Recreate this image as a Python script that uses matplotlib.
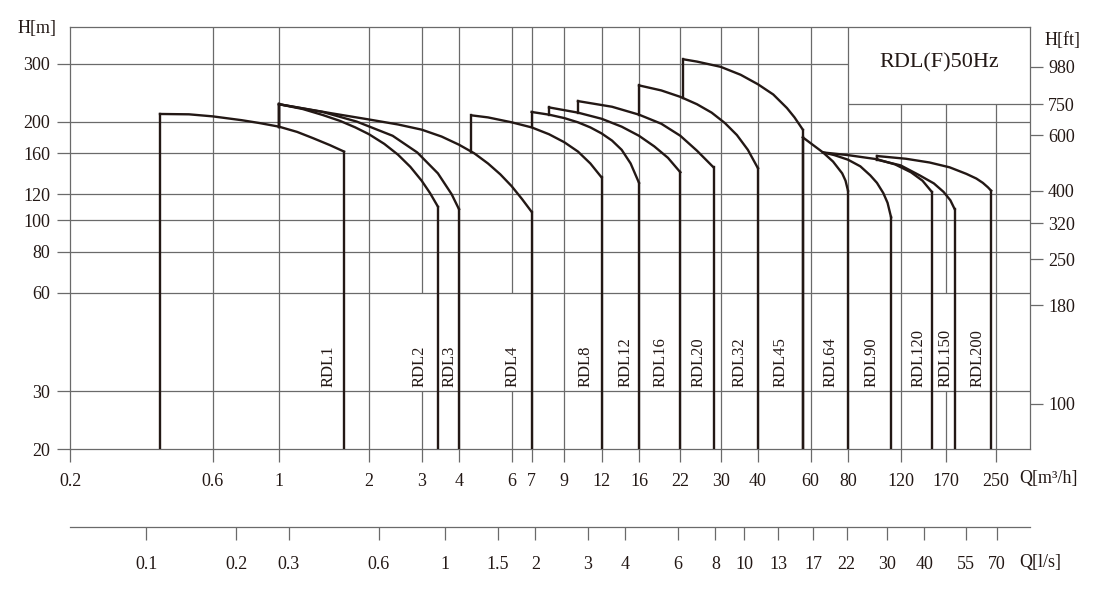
import numpy as np
import matplotlib.pyplot as plt
from matplotlib.ticker import NullLocator

plt.rcParams['font.family'] = ['Liberation Serif', 'DejaVu Serif']

GRID = '#6a6a6a'
INK = '#231815'

# axis ranges (Q in m3/h, H in m)
q_min, q_max = 0.2, 325
h_min, h_max = 20, 389

q_ticks = [0.2, 0.6, 1, 2, 3, 4, 6, 7, 9, 12, 16, 22, 30, 40, 60, 80, 120, 170, 250]
ls_ticks = [0.1, 0.2, 0.3, 0.6, 1, 1.5, 2, 3, 4, 6, 8, 10, 13, 17, 22, 30, 40, 55, 70]
h_ticks = [20, 30, 60, 80, 100, 120, 160, 200, 300]
ft_labels = ['980', '750', '600', '400', '320', '250', '180', '100']
ft_pos_m = [294, 226, 182, 123, 98, 76, 55, 27.5]

# pump curves
rdl1_q = [0.4, 0.5, 0.6, 0.75, 0.86, 1.0, 1.15, 1.3, 1.48, 1.65]
rdl1_h = [211, 210.5, 207.5, 202, 198, 193, 186, 178, 169.5, 162]
rdl2_q = [1, 1.2, 1.4, 1.6, 1.8, 2, 2.25, 2.5, 2.75, 3, 3.2, 3.4]
rdl2_h = [226, 218.5, 209.5, 201, 192, 183, 171, 158.5, 145.5, 132, 121, 110]
rdl3_q = [1, 1.4, 1.82, 2.4, 2.9, 3.4, 3.78, 4.0]
rdl3_h = [226, 214, 200, 181, 161, 139, 120, 108]
rdl4_q = [1, 1.5, 2, 2.5, 3, 3.5, 4, 4.5, 5, 5.5, 6, 6.5, 7]
rdl4_h = [226, 212, 203, 196, 189, 180, 170, 160, 149, 138, 127, 116, 106]
rdl8_q = [4.4, 5, 6, 7, 8, 9, 10, 11, 12]
rdl8_h = [209, 206, 199, 192, 183, 173, 162, 149, 135]
rdl12_q = [7, 8, 9, 10, 11, 12, 13, 14, 15, 16]
rdl12_h = [214, 210, 205, 199, 192, 184, 175, 164, 149, 130]
rdl16_q = [8, 10, 12, 14, 16, 18, 20, 22]
rdl16_h = [221, 213, 204, 193, 181, 168, 155, 140]
rdl20_q = [10, 13, 16, 19, 22, 25, 28.4]
rdl20_h = [231, 222, 210, 197, 181, 163, 145]
rdl32_q = [16, 19, 22, 25, 28, 31, 34, 37, 40]
rdl32_h = [258, 249, 238, 226, 213, 198, 182, 164, 144]
rdl45_q = [22.5, 25, 30, 35, 40, 45, 50, 53, 56.5]
rdl45_h = [310, 305, 294, 278, 260, 242, 220, 206, 189]
rdl64_q = [56.5, 66, 71.3, 76.5, 78.5, 80]
rdl64_h = [179, 161, 151, 139, 132, 123]
rdl90_q = [66, 72, 80, 88, 95, 100, 105, 108.5, 111.5]
rdl90_h = [161, 158, 153, 146, 137, 130, 121, 113, 102]
rdl120_q = [66, 80, 100, 115, 130, 142, 152.6]
rdl120_h = [161, 158, 153.5, 148, 140, 132, 122]
rdl150_q = [100, 120, 139, 155, 167, 176, 182]
rdl150_h = [153, 147, 137, 129.5, 122, 115, 108]
rdl200_q = [100, 125, 150, 175, 199, 215, 226, 235, 241]
rdl200_h = [157, 154, 150, 145, 138.5, 134, 130, 126, 123]

names = ['RDL1', 'RDL2', 'RDL3', 'RDL4', 'RDL8', 'RDL12', 'RDL16', 'RDL20',
         'RDL32', 'RDL45', 'RDL64', 'RDL90', 'RDL120', 'RDL150', 'RDL200']
curves_q = [rdl1_q, rdl2_q, rdl3_q, rdl4_q, rdl8_q, rdl12_q, rdl16_q, rdl20_q,
            rdl32_q, rdl45_q, rdl64_q, rdl90_q, rdl120_q, rdl150_q, rdl200_q]
curves_h = [rdl1_h, rdl2_h, rdl3_h, rdl4_h, rdl8_h, rdl12_h, rdl16_h, rdl20_h,
            rdl32_h, rdl45_h, rdl64_h, rdl90_h, rdl120_h, rdl150_h, rdl200_h]
# curve on which each start line stands (None -> from the bottom)
rests_on = [None, 'RDL1', 'RDL1', 'RDL1', 'RDL4', 'RDL8', 'RDL12', 'RDL16',
            'RDL20', 'RDL32', None, 'RDL64', 'RDL64', 'RDL120', 'RDL120']
label_q = [1.46, 2.96, 3.73, 6.06, 10.6, 14.4, 18.9, 25.4, 34.8, 47.7, 70.2, 96.2, 138, 169, 217]


def head_at(name, q):
    i = names.index(name)
    return np.exp(np.interp(np.log(q), np.log(curves_q[i]), np.log(curves_h[i])))


fig = plt.figure(figsize=(11, 5.9), dpi=100)
ax = fig.add_axes([70 / 1100, 141 / 590, 960 / 1100, 422 / 590])
ax.set_xscale('log')
ax.set_yscale('log')
ax.set_xlim(q_min, q_max)
ax.set_ylim(h_min, h_max)

# grid
gkw = dict(color=GRID, lw=0.9, zorder=1)
for h in h_ticks[1:]:
    ax.hlines(h, q_min, 80 if h == 300 else q_max, **gkw)
ax.hlines(ft_pos_m[1], 80, q_max, **gkw)
for q in q_ticks[1:]:
    top = ft_pos_m[1] if q > 80 else h_max
    if q in (3, 6, 170):
        ax.vlines(q, h_min, 30, **gkw)
        ax.vlines(q, 60, top, **gkw)
    else:
        ax.vlines(q, h_min, top, **gkw)

# pump curves
ckw = dict(color=INK, lw=1.7, zorder=3, solid_joinstyle='round')
for name, qs, hs, base, lq in zip(names, curves_q, curves_h, rests_on, label_q):
    h0 = h_min if base is None else head_at(base, qs[0])
    ax.plot([qs[0], qs[0]], [h0, hs[0]], **ckw)
    ax.plot(qs, hs, **ckw)
    ax.plot([qs[-1], qs[-1]], [hs[-1], h_min], **ckw)
    ax.text(lq, 31, name, rotation=90, ha='center', va='bottom', fontsize=12, color=INK)

for s in ax.spines.values():
    s.set_color(GRID)
    s.set_linewidth(0.9)

ax.set_xticks(q_ticks)
ax.set_xticklabels([f'{v:g}' for v in q_ticks])
ax.set_yticks(h_ticks)
ax.set_yticklabels([f'{v:g}' for v in h_ticks])
ax.xaxis.set_minor_locator(NullLocator())
ax.yaxis.set_minor_locator(NullLocator())
ax.tick_params(axis='x', length=9, width=0.9, color=GRID, pad=8, labelsize=13, labelcolor=INK)
ax.tick_params(axis='y', length=9.4, width=0.9, color=GRID, pad=5, labelsize=13, labelcolor=INK)

# H[ft] scale
axr = ax.twinx()
axr.set_yscale('log')
axr.set_ylim(h_min, h_max)
axr.set_yticks(ft_pos_m)
axr.set_yticklabels(ft_labels)
axr.yaxis.set_minor_locator(NullLocator())
axr.tick_params(axis='y', length=9, width=0.9, color=GRID, pad=4, labelsize=13, labelcolor=INK)
for s in axr.spines.values():
    s.set_visible(False)

# Q[l/s] scale
axl = fig.add_axes([70 / 1100, 63 / 590, 960 / 1100, 0.0001])
axl.set_xscale('log')
axl.set_xlim(q_min / 3.6, q_max / 3.6)
axl.set_xticks(ls_ticks)
axl.set_xticklabels([f'{v:g}' for v in ls_ticks])
axl.xaxis.set_minor_locator(NullLocator())
axl.set_yticks([])
axl.tick_params(axis='x', length=9, width=0.9, color=GRID, pad=12, labelsize=13, labelcolor=INK)
for k, s in axl.spines.items():
    s.set_visible(k == 'bottom')
    s.set_color(GRID)
    s.set_linewidth(0.9)
axl.patch.set_visible(False)

fig.text(57 / 1100, 1 - 28 / 590, 'H[m]', ha='right', va='center', fontsize=13, color=INK)
fig.text(1045 / 1100, 1 - 40 / 590, 'H[ft]', ha='left', va='center', fontsize=13, color=INK)
fig.text(1019 / 1100, 1 - 478 / 590, 'Q[m³/h]', ha='left', va='center', fontsize=13, color=INK)
fig.text(1019 / 1100, 1 - 562 / 590, 'Q[l/s]', ha='left', va='center', fontsize=13, color=INK)
fig.text(939 / 1100, 1 - 63 / 590, 'RDL(F)50Hz', ha='center', va='center', fontsize=16, color=INK)

fig.savefig('out.png', dpi=100)
